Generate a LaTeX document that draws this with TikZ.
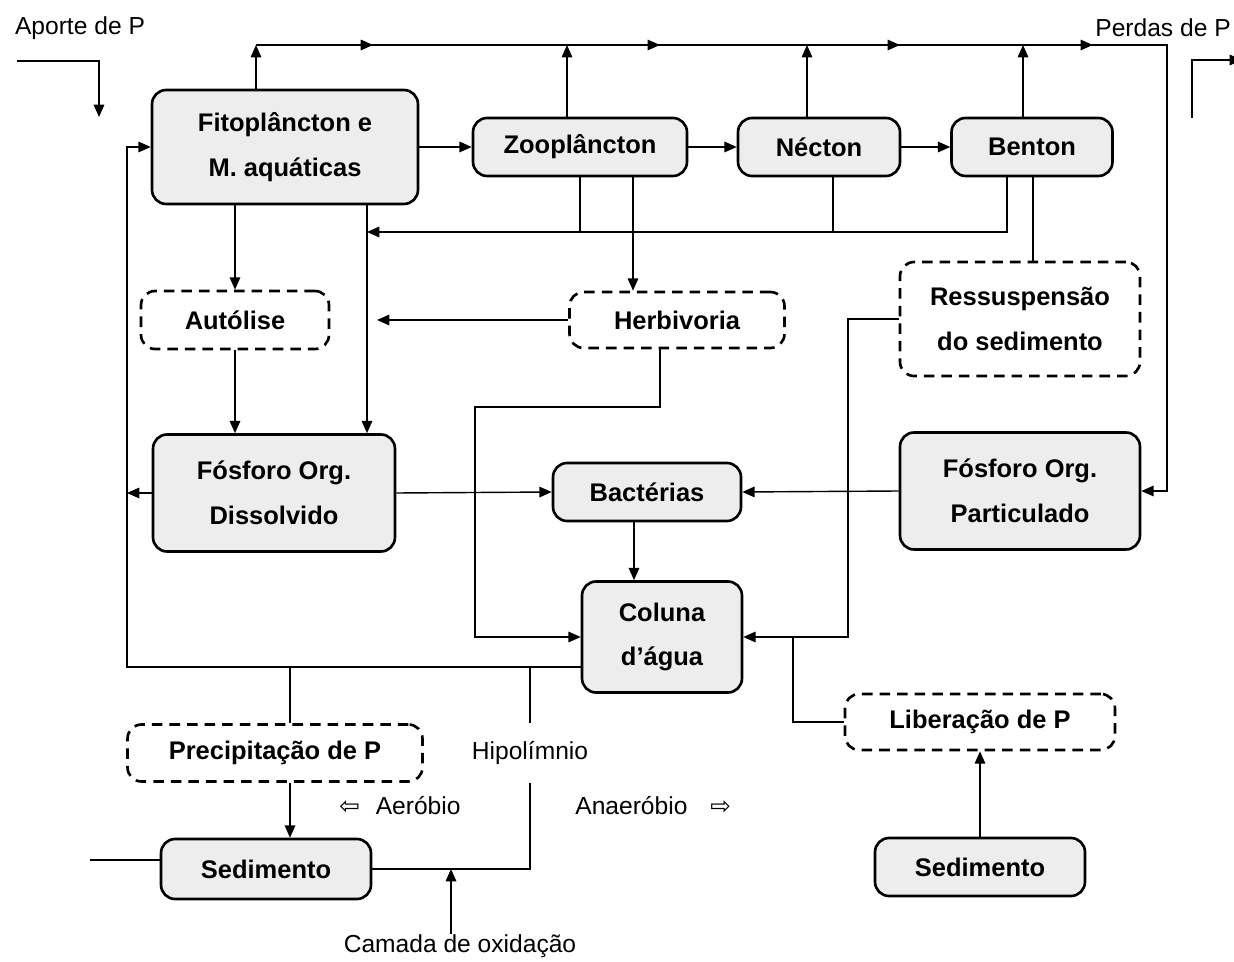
\documentclass[tikz,border=0pt]{standalone}
\usepackage{fontspec}
\setmainfont{Liberation Sans}
\newfontfamily\symfont{DejaVu Sans}
\usepackage{tikz}
\usetikzlibrary{arrows.meta}
\usetikzlibrary{decorations.markings}

\tikzset{
	solidbox/.style={draw, line width=1.5pt, rounded corners=8pt, fill=black!7, align=center, inner sep=0pt, font={\fontsize{14.5}{25.5}\selectfont\bfseries}},
	dashbox/.style={draw, line width=1.5pt, dash pattern=on 6pt off 4pt, rounded corners=8pt, fill=white, align=center, inner sep=0pt, font={\fontsize{14.5}{25.5}\selectfont\bfseries}},
	flow/.style={line width=0.8pt, -{Triangle[length=7pt,width=6pt]}},
	plain/.style={line width=0.8pt},
	lbl/.style={inner sep=0pt, font={\fontsize{14}{16}\selectfont}},
	midarrows/.style={postaction={decorate}, decoration={markings,
		mark=at position 2.34cm with {\arrow{Triangle[length=7pt,width=6pt]}},
		mark=at position 8.08cm with {\arrow{Triangle[length=7pt,width=6pt]}},
		mark=at position 12.88cm with {\arrow{Triangle[length=7pt,width=6pt]}},
		mark=at position 16.74cm with {\arrow{Triangle[length=7pt,width=6pt]}}}}
}

\begin{document}
\begin{tikzpicture}[x=0.02cm, y=-0.02cm]
		\useasboundingbox (0,0) rectangle (1234,962);

		\node[solidbox, minimum width=5.32cm, minimum height=2.28cm] (fito) at (285,147) {Fitoplâncton e\\M. aquáticas};
		\node[solidbox, minimum width=4.28cm, minimum height=1.16cm] (zoo) at (580,147) {Zooplâncton};
		\node[solidbox, minimum width=3.24cm, minimum height=1.16cm] (necton) at (819,147) {Nécton};
		\node[solidbox, minimum width=3.22cm, minimum height=1.16cm] (benton) at (1032,147) {Benton};
		\node[dashbox, minimum width=3.76cm, minimum height=1.16cm] (autolise) at (235,320) {Autólise};
		\node[dashbox, minimum width=4.30cm, minimum height=1.12cm] (herbiv) at (677,320) {Herbivoria};
		\node[dashbox, minimum width=4.80cm, minimum height=2.28cm] (ressusp) at (1020,319) {Ressuspensão\\do sedimento};
		\node[solidbox, minimum width=4.84cm, minimum height=2.34cm] (fod) at (274,493) {Fósforo Org.\\Dissolvido};
		\node[solidbox, minimum width=3.76cm, minimum height=1.16cm] (bact) at (647,492) {Bactérias};
		\node[solidbox, minimum width=4.80cm, minimum height=2.34cm] (fop) at (1020,491) {Fósforo Org.\\Particulado};
		\node[solidbox, minimum width=3.20cm, minimum height=2.22cm] (coluna) at (662,637) {Coluna\\d’água};
		\node[dashbox, minimum width=5.90cm, minimum height=1.14cm] (precip) at (275,753) {Precipitação de P};
		\node[solidbox, minimum width=4.20cm, minimum height=1.20cm] (sedA) at (266,869) {Sedimento};
		\node[dashbox, minimum width=5.40cm, minimum height=1.12cm] (liber) at (980,722) {Liberação de P};
		\node[solidbox, minimum width=4.20cm, minimum height=1.16cm] (sedB) at (980,867) {Sedimento};

		\node[lbl] (aporte) at (80,28) {Aporte de P};
		\node[lbl, anchor=west] (perdas) at (1095,28) {Perdas de P};
		\node[lbl, minimum height=1.2cm] (hipo) at (530,753) {Hipolímnio};
		\node[lbl, anchor=west] (aerob) at (339,806) {{\symfont\fontsize{14}{14}\selectfont ⇦}\hspace{9pt}Aeróbio};
		\node[lbl, anchor=west] (anaerob) at (575,806) {Anaeróbio\hspace{13pt}{\symfont\fontsize{14}{14}\selectfont ⇨}};
		\node[lbl] (camada) at (460,946) {Camada de oxidação};

		\coordinate (inA) at (17,61);
		\coordinate (inB) at (99,117);
		\coordinate (outA) at (1192,118);
		\coordinate (outB) at (1242,60);
		\coordinate (topL) at (256,45);
		\coordinate (topR) at (1167,45);
		\coordinate (colF) at (367,232);
		\coordinate (retR) at (1007,232);
		\coordinate (herbT) at (377,316);
		\coordinate (hbA) at (660,407);
		\coordinate (hbB) at (475,407);
		\coordinate (rsA) at (848,320);
		\coordinate (lbA) at (793,637);
		\coordinate (loopL) at (127,667);
		\coordinate (sedIn) at (90,860);

		\draw[flow] (inA) -| (inB);
		\draw[flow] (outA) |- (outB);

		\draw[flow, midarrows] (topL) -- (topR) |- (fop.east);
		\draw[flow] (fito.north -| topL) -- (topL);
		\foreach \n/\x in {zoo/567, necton/807, benton/1023}
		{
		\draw[flow] (\n.north -| \x,0) -- (topL -| \x,0);
		}

		\draw[flow] (fito.east) -- (zoo.west);
		\draw[flow] (zoo.east) -- (necton.west);
		\draw[flow] (necton.east) -- (benton.west);

		\draw[flow] (fito.south -| autolise) -- (autolise.north);
		\draw[flow] (fito.south -| colF) -- (fod.north -| colF);
		\draw[flow] (benton.south -| retR) -- (retR) -- (colF);
		\foreach \n/\x in {zoo/580, necton/833}
		{
		\draw[plain] (\n.south -| \x,0) -- (retR -| \x,0);
		}
		\draw[flow] (zoo.south -| 633,0) -- (herbiv.north -| 633,0);
		\draw[flow] (herbiv.west) -- (herbiv.west -| herbT);
		\draw[flow] (autolise.south) -- (fod.north -| autolise.south);

		\draw[flow] (herbiv.south -| hbA) -- (hbA) -- (hbB) |- (coluna.west);
		\draw[flow] (fod.east) -- (bact.west);
		\draw[flow] (fop.west) -- (bact.east);
		\draw[flow] (bact.south -| 634,0) -- (coluna.north -| 634,0);

		\draw[plain] (benton.south -| 1033,0) -- (ressusp.north -| 1033,0);
		\draw[flow] (ressusp.west) -- (ressusp.west -| rsA) |- (coluna.east);
		\draw[plain] (liber.west) -| (lbA);
		\draw[flow] (sedB.north) -- (liber.south);

		\draw[flow] (coluna.west |- loopL) -- (loopL) |- (fito.west);
		\draw[flow] (fod.west) -- (fod.west -| loopL);
		\draw[plain] (loopL -| 290,0) -- (precip.north -| 290,0);
		\draw[flow] (precip.south -| 290,0) -- (sedA.north -| 290,0);
		\draw[plain] (sedIn) -- (sedA.west |- sedIn);
		\draw[plain] (loopL -| hipo) -- (hipo.north);
		\draw[plain] (hipo.south) -- (hipo |- sedA.east) -- (sedA.east);
		\draw[flow] (camada.north -| 451,0) -- (sedA.east -| 451,0);
\end{tikzpicture}
\end{document}
